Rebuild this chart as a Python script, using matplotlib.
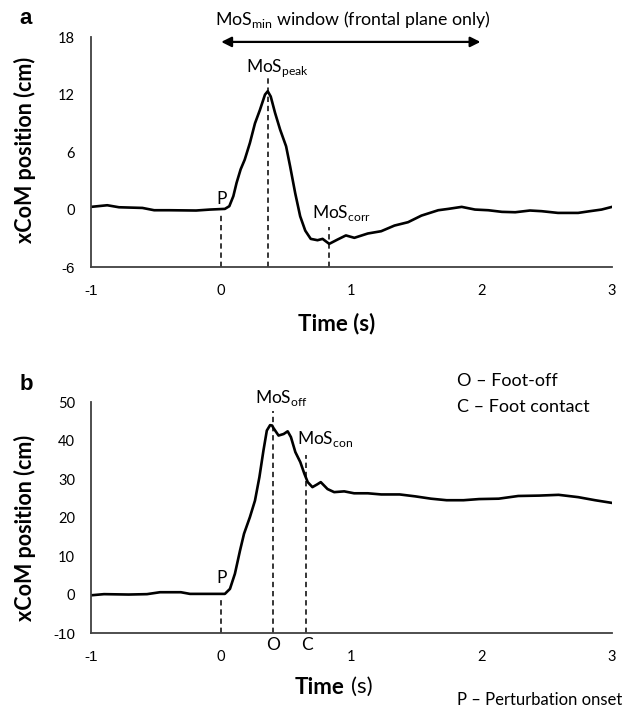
import matplotlib
matplotlib.use("Agg")
import matplotlib.pyplot as plt

plt.rcParams["font.family"] = ["Lato", "DejaVu Sans"]

# panel a - frontal plane xCoM
time_a = [-1.0, -0.875, -0.785, -0.605, -0.515, -0.4, -0.193, -0.086, 0.028, 0.062,
          0.093, 0.118, 0.149, 0.18, 0.22, 0.259, 0.297, 0.336, 0.357, 0.38,
          0.413, 0.452, 0.498, 0.529, 0.568, 0.606, 0.645, 0.687, 0.739, 0.778,
          0.829, 0.893, 0.957, 1.022, 1.125, 1.228, 1.33, 1.434, 1.537, 1.666,
          1.743, 1.846, 1.948, 2.05, 2.155, 2.257, 2.37, 2.46, 2.585, 2.74,
          2.83, 2.92, 3.0]
xcom_a = [0.28, 0.45, 0.24, 0.17, -0.07, -0.07, -0.1, 0.0, 0.07, 0.35,
          1.4, 2.8, 4.2, 5.2, 6.95, 9.0, 10.4, 12.0, 12.35, 11.8,
          10.1, 8.35, 6.6, 4.5, 1.7, -0.7, -2.2, -3.06, -3.2, -3.06,
          -3.58, -3.13, -2.7, -2.95, -2.5, -2.26, -1.67, -1.32, -0.63, -0.07,
          0.07, 0.28, 0.0, -0.07, -0.24, -0.28, -0.1, -0.17, -0.35, -0.35,
          -0.17, 0.0, 0.28]

# panel b - sagittal plane xCoM
time_b = [-1.0, -0.9, -0.71, -0.57, -0.47, -0.31, -0.24, -0.086, 0.028, 0.067,
          0.105, 0.144, 0.175, 0.22, 0.259, 0.293, 0.324, 0.35, 0.375, 0.391,
          0.40, 0.44, 0.479, 0.51, 0.535, 0.569, 0.607, 0.638, 0.664, 0.70,
          0.736, 0.764, 0.816, 0.867, 0.944, 1.02, 1.125, 1.228, 1.37, 1.49,
          1.61, 1.73, 1.86, 1.98, 2.13, 2.28, 2.44, 2.59, 2.74, 2.87, 3.0]
xcom_b = [-0.2, 0.1, 0.0, 0.1, 0.6, 0.6, 0.17, 0.17, 0.17, 1.47,
          5.4, 11.4, 15.8, 20.1, 24.4, 30.5, 37.4, 42.6, 44.0, 43.9,
          43.3, 41.3, 41.7, 42.4, 40.9, 37.0, 34.4, 31.4, 29.2, 27.9,
          28.6, 29.2, 27.4, 26.6, 26.8, 26.3, 26.3, 26.0, 26.0, 25.5,
          24.9, 24.5, 24.5, 24.8, 24.9, 25.6, 25.7, 25.9, 25.3, 24.5, 23.8]

x_ticks = [-1, 0, 1, 2, 3]
y_ticks_a = [-6, 0, 6, 12, 18]
y_ticks_b = [-10, 0, 10, 20, 30, 40, 50]

# event times
t_peak = 0.357
t_corr = 0.829
t_off = 0.399
t_con = 0.649

fig = plt.figure(figsize=(6.27, 7.14), dpi=100)
ax_a = fig.add_axes([0.1451, 0.626, 0.831, 0.322])
ax_b = fig.add_axes([0.1451, 0.1134, 0.831, 0.3235])

axis_col = "#404040"
dash = dict(color="black", lw=1.1, ls=(0, (3.5, 2.5)))
note = 12.5


def style(ax, yticks, ylab_y):
    ax.set_xlim(-1, 3)
    ax.set_ylim(yticks[0], yticks[-1])
    ax.set_xticks(x_ticks)
    ax.set_yticks(yticks)
    ax.set_xticklabels([str(t) for t in x_ticks])
    ax.set_yticklabels([str(t) for t in yticks])
    for s in ["top", "right"]:
        ax.spines[s].set_visible(False)
    for s in ["left", "bottom"]:
        ax.spines[s].set_color(axis_col)
        ax.spines[s].set_linewidth(1.3)
    ax.tick_params(length=0, labelsize=10.5)
    ax.tick_params(axis="x", pad=12)
    ax.tick_params(axis="y", pad=11.5)
    # negative labels are in a different font in the original
    for lab in ax.get_xticklabels() + ax.get_yticklabels():
        if lab.get_text().startswith("-"):
            lab.set_family("Liberation Sans")
            lab.set_fontsize(11)
    ax.set_ylabel("xCoM position (cm)", fontsize=15.5, fontweight="bold")
    ax.yaxis.set_label_coords(-0.106, ylab_y)


# ---- panel a
style(ax_a, y_ticks_a, 0.51)
ax_a.plot(time_a, xcom_a, color="black", lw=1.9)
ax_a.plot([0, 0], [-6, -0.4], **dash)
ax_a.plot([t_peak, t_peak], [-6, 13.7], **dash)
ax_a.plot([t_corr, t_corr], [-6, -1.8], **dash)
ax_a.text(0.0, 1.1, "P", fontsize=note, ha="center", va="center")
ax_a.text(0.43, 14.8, "MoS$_{\\mathregular{peak}}$", fontsize=note, ha="center", va="center")
ax_a.text(0.92, -0.35, "MoS$_{\\mathregular{corr}}$", fontsize=note, ha="center", va="center")
ax_a.annotate("", xy=(1.99, 17.5), xytext=(0.0, 17.5), annotation_clip=False,
              arrowprops=dict(arrowstyle="<|-|>", color="black", lw=1.6,
                              mutation_scale=15, shrinkA=0, shrinkB=0))
ax_a.text(0.503, 1.075, "MoS$_{\\mathregular{min}}$ window (frontal plane only)",
          transform=ax_a.transAxes, fontsize=12.8, ha="center", va="center")
ax_a.set_xlabel("Time (s)", fontsize=16, fontweight="bold")
ax_a.xaxis.set_label_coords(0.472, -0.2)
fig.text(26 / 627, 1 - 18 / 714, "a", family="Liberation Sans", fontsize=16,
         fontweight="bold", ha="center", va="center")

# ---- panel b
style(ax_b, y_ticks_b, 0.455)
ax_b.plot(time_b, xcom_b, color="black", lw=1.9)
ax_b.plot([0, 0], [-10, -1], **dash)
ax_b.plot([t_off, t_off], [-10, 47.8], **dash)
ax_b.plot([t_con, t_con], [-10, 36.2], **dash)
ax_b.text(0.0, 4.2, "P", fontsize=note, ha="center", va="center")
ax_b.text(0.465, 51.0, "MoS$_{\\mathregular{off}}$", fontsize=note, ha="center", va="center")
ax_b.text(0.80, 40.5, "MoS$_{\\mathregular{con}}$", fontsize=note, ha="center", va="center")
ax_b.text(0.40, -13.1, "O", fontsize=note, ha="center", va="center", clip_on=False)
ax_b.text(0.66, -13.1, "C", fontsize=note, ha="center", va="center", clip_on=False)
ax_b.text(0.4875, -0.234, "Time", transform=ax_b.transAxes, fontsize=16,
          fontweight="bold", ha="right", va="center")
ax_b.text(0.499, -0.234, "(s)", transform=ax_b.transAxes, fontsize=16,
          ha="left", va="center")
fig.text(457 / 627, 1 - 381 / 714, "O \u2013 Foot-off", fontsize=13, ha="left", va="center")
fig.text(457 / 627, 1 - 407 / 714, "C \u2013 Foot contact", fontsize=13, ha="left", va="center")
fig.text(622 / 627, 1 - 700 / 714, "P \u2013 Perturbation onset", fontsize=12,
         ha="right", va="center")
fig.text(26 / 627, 1 - 385 / 714, "b", family="Liberation Sans", fontsize=16,
         fontweight="bold", ha="center", va="center")

fig.savefig("out.png", dpi=100)
